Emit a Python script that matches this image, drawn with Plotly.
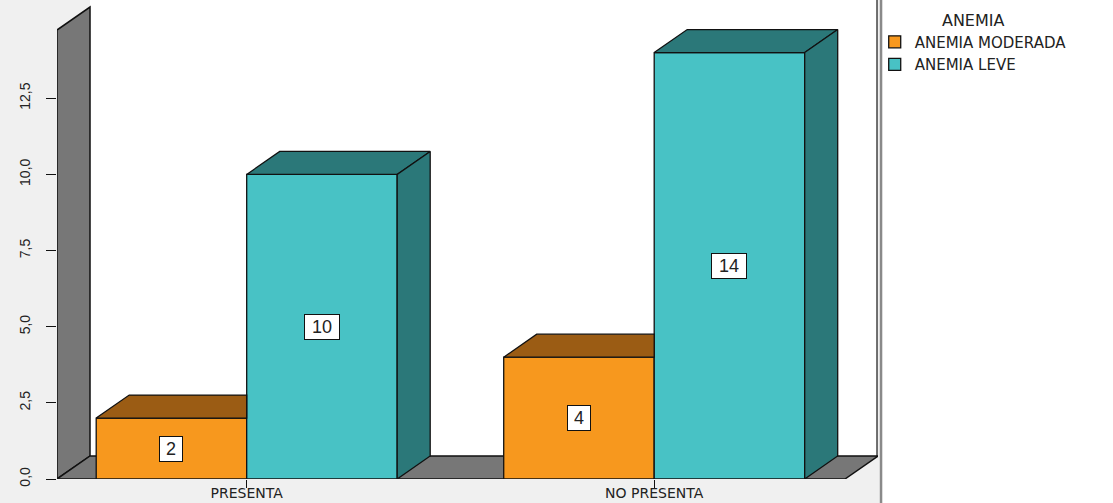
import plotly.graph_objects as go

# ---------------- data ----------------
categories = ["PRESENTA", "NO PRESENTA"]
series_names = ["ANEMIA MODERADA", "ANEMIA LEVE"]
anemia_moderada = [2, 4]
anemia_leve = [10, 14]
y_tickvals = [0, 2.5, 5, 7.5, 10, 12.5]
y_ticktext = ["0,0", "2,5", "5,0", "7,5", "10,0", "12,5"]
legend_title = "ANEMIA"

series_values = [anemia_moderada, anemia_leve]
front_colors = ["#F7981E", "#48C2C5"]
dark_colors = ["#9B5C14", "#2B7879"]

# ---------------- geometry (axis units) ----------------
W = 0.3693          # bar width (category spacing = 1)
DX = 0.081          # 3-D depth, x direction
DV = 0.755          # 3-D depth, y direction
X_LEFT = -0.4655
X_RIGHT = 1.5492
FLOOR_R = X_RIGHT - DX
Y_TOP = 15.726
WALL_TOP = 14.74
EDGE = "#111111"

fig = go.Figure()

# front faces (bars)
xs = list(range(len(categories)))
for i, (name, vals) in enumerate(zip(series_names, series_values)):
    fig.add_trace(go.Bar(
        x=xs, y=vals, name=name, width=W, offset=-W + i * W,
        marker=dict(color=front_colors[i], line=dict(color=EDGE, width=1.3)),
        showlegend=True,
    ))

# top and side faces
def poly(px, py, color, show=False):
    fig.add_trace(go.Scatter(
        x=px + [px[0]], y=py + [py[0]], mode="lines", fill="toself",
        fillcolor=color, line=dict(color=EDGE, width=1.3),
        hoverinfo="skip", showlegend=show,
    ))

n = len(series_values)
for c in xs:
    for i in range(n):
        v = series_values[i][c]
        xl = c - W + i * W
        xr = xl + W
        if i < n - 1:
            h_next = series_values[i + 1][c]
            if h_next >= v + DV:
                poly([xl, xr, xr, xl + DX], [v, v, v + DV, v + DV], dark_colors[i])
            else:
                poly([xl, xr, xr + DX, xl + DX], [v, v, v + DV, v + DV], dark_colors[i])
                lo = max(h_next, 0)
                poly([xr, xr + DX, xr + DX, xr], [lo, max(lo, DV), v + DV, v], dark_colors[i])
        else:
            poly([xl, xr, xr + DX, xl + DX], [v, v, v + DV, v + DV], dark_colors[i])
            poly([xr, xr + DX, xr + DX, xr], [0, DV, v + DV, v], dark_colors[i])

# value labels
annotations = []
for c in xs:
    for i in range(n):
        v = series_values[i][c]
        txt = str(v)
        annotations.append(dict(
            x=c - W + i * W + W / 2, y=v / 2, xref="x", yref="y", text=txt,
            showarrow=False, bgcolor="white", bordercolor=EDGE, borderwidth=1,
            borderpad=1, width=12 * len(txt) + 8, height=22,
            font=dict(family="Liberation Sans, Arial", size=18, color="#222"),
        ))

# walls, floor, back plane
shapes = [
    dict(type="rect", xref="x", yref="y", x0=X_LEFT + DX, x1=X_RIGHT, y0=DV, y1=Y_TOP,
         fillcolor="white", line=dict(width=0), layer="below"),
    dict(type="path", xref="x", yref="y", layer="below",
         path=f"M{X_LEFT},0 L{X_LEFT + DX},{DV} L{X_LEFT + DX},{WALL_TOP + DV} L{X_LEFT},{WALL_TOP} Z",
         fillcolor="#777777", line=dict(color=EDGE, width=1.5)),
    dict(type="path", xref="x", yref="y", layer="below",
         path=f"M{X_LEFT},0 L{FLOOR_R},0 L{FLOOR_R + DX},{DV} L{X_LEFT + DX},{DV} Z",
         fillcolor="#777777", line=dict(color=EDGE, width=1.5)),
    # legend area
    dict(type="rect", xref="paper", yref="paper", x0=1.004, x1=1.35, y0=-0.1, y1=1.1,
         fillcolor="white", line=dict(width=0), layer="below"),
    # right edge of back plane and separator
    dict(type="line", xref="paper", yref="paper", x0=0.9988, x1=0.9988, y0=DV / Y_TOP, y1=1.0,
         line=dict(color=EDGE, width=1.2)),
    dict(type="line", xref="paper", yref="paper", x0=1.0037, x1=1.0037, y0=-0.06, y1=1.0,
         line=dict(color="#8a8a8a", width=2.5)),
]

fig.update_layout(
    width=1113, height=503, autosize=False,
    margin=dict(l=57, r=235, t=0, b=24, autoexpand=False),
    paper_bgcolor="#f0f0f0", plot_bgcolor="#f0f0f0",
    barmode="overlay",
    shapes=shapes, annotations=annotations,
    font=dict(family="Liberation Sans, Arial", color="#222"),
    xaxis=dict(range=[X_LEFT, X_RIGHT], tickvals=xs, ticktext=categories,
               showgrid=False, zeroline=False, showline=False, automargin=False,
               ticks="outside", ticklen=8, tickcolor=EDGE, ticklabelstandoff=-7,
               tickfont=dict(size=14, family="DejaVu Sans, Liberation Sans", color="#222")),
    yaxis=dict(range=[0, Y_TOP], tickvals=y_tickvals, ticktext=y_ticktext,
               showgrid=False, zeroline=False, showline=False, automargin=False,
               ticks="outside", ticklen=10, tickcolor=EDGE, tickangle=-90,
               ticklabelstandoff=10,
               tickfont=dict(size=14, family="Liberation Sans Narrow, Liberation Sans", color="#222")),
    legend=dict(x=0.996, y=0.99, xanchor="left", yanchor="top",
                bgcolor="rgba(0,0,0,0)", traceorder="normal",
                title=dict(text=legend_title, side="top center",
                           font=dict(size=16, family="DejaVu Sans, Liberation Sans", color="#222")),
                font=dict(size=15, family="DejaVu Sans, Liberation Sans", color="#222"),
                itemwidth=30, tracegroupgap=0),
    hovermode=False,
)

fig.write_html("out.html")
